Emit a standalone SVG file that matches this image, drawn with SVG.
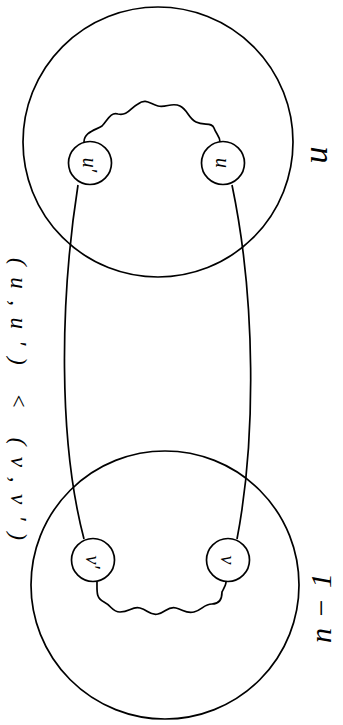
<svg xmlns="http://www.w3.org/2000/svg" width="343" height="725" viewBox="0 0 343 725">
<style>
.ln{fill:none;stroke:#000;stroke-width:1.7}
.nd{fill:#fff;stroke:#000;stroke-width:1.7}
.t{font-family:"Liberation Serif","DejaVu Serif",serif;font-style:italic;fill:#000}
</style>
<rect width="343" height="725" fill="#fff"/>
<g id="region-n">
<circle class="ln" cx="158" cy="142" r="135"/>
<text class="t" font-size="34" text-anchor="middle" dominant-baseline="central" transform="translate(322,155) rotate(90)">n</text>
</g>
<g id="region-n-1">
<circle class="ln" cx="165" cy="585" r="134"/>
<text class="t" font-size="30" text-anchor="middle" dominant-baseline="central" textLength="70" lengthAdjust="spacing" transform="translate(320,608) rotate(-90)">n−1</text>
</g>
<g id="connectors">
<path class="ln" d="M84,142 C84,132 96,130 102,126 C108,120 110,112 118,114 C128,116 130,108 138,104 C146,98 150,104 158,106 C166,108 172,102 180,106 C188,110 188,118 196,122 C204,126 212,122 214,128 C216,134 220,136 220,142"/>
<path class="ln" d="M97,582 C97,592 96,598 104,602 C112,606 112,612 120,612 C130,612 132,606 140,608 C148,610 150,616 158,614 C166,612 168,606 176,608 C184,610 186,614 194,612 C202,610 204,604 212,604 C220,604 222,598 222,592 C224,588 226,585 226,582"/>
<path class="ln" d="M78,185 C60,300 58,440 84,539"/>
<path class="ln" d="M232,185 C256,300 256,440 237,539"/>
<text class="t" font-size="23" textLength="282" lengthAdjust="spacing" transform="translate(11,258) rotate(90)">(u,u′) &lt; (v,v′)</text>
</g>
<g id="node-u-prime">
<circle class="nd" cx="90" cy="163" r="21.5"/>
<text class="t" font-size="20" text-anchor="middle" dominant-baseline="central" transform="translate(90,165) rotate(90)">u′</text>
</g>
<g id="node-u">
<circle class="nd" cx="223" cy="163" r="21.5"/>
<text class="t" font-size="20" text-anchor="middle" dominant-baseline="central" transform="translate(223,163) rotate(90)">u</text>
</g>
<g id="node-v-prime">
<circle class="nd" cx="93" cy="560" r="21.5"/>
<text class="t" font-size="20" text-anchor="middle" dominant-baseline="central" transform="translate(93,562) rotate(90)">v′</text>
</g>
<g id="node-v">
<circle class="nd" cx="228" cy="560" r="21.5"/>
<text class="t" font-size="20" text-anchor="middle" dominant-baseline="central" transform="translate(228,560) rotate(90)">v</text>
</g>
</svg>
